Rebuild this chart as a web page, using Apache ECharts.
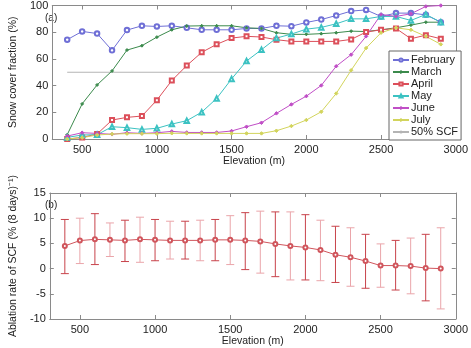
<!DOCTYPE html>
<html lang="en">
<head>
<meta charset="UTF-8">
<title>Snow cover and ablation rate</title>
<script src="https://cdn.jsdelivr.net/npm/echarts@6/dist/echarts.min.js"></script>
<style>
  html, body { margin: 0; padding: 0; background: #fff; }
  #main { width: 471px; height: 348px; }
</style>
</head>
<body>
<div id="main"></div>
<script>
// elevations (m)
var elev = [400,500,600,700,800,900,1000,1100,1200,1300,1400,1500,1600,1700,1800,1900,2000,2100,2200,2300,2400,2500,2600,2700,2800,2900];

// (a) snow cover fraction (%)
var feb = [74.4,80.6,79,66.4,81.6,84.8,84.3,84.8,83.3,81.8,81.8,81.8,82.8,82.8,84.8,84.5,87.3,89.5,92.5,95.8,96.7,91.8,94.3,94.3,93,87.5];
var mar = [3.2,26.3,40.5,51,66.6,69.9,76.3,81.8,84.6,84.8,84.8,84.8,83.3,82.8,79.6,78.4,78.4,78.9,79.6,80.8,80.5,81.8,83.3,85.3,87.5,87.5];
var apr = [0,1.2,3.7,14.2,16.2,17.2,29.1,43.8,55,64.9,70.9,75.6,76.9,76.4,74.4,73.1,73.1,73.1,73.1,74.6,80.1,81.8,82.8,75.1,77.8,75.1];
var may = [1.2,3,3.2,9.2,8.5,7.2,8,11.2,13.7,20.1,30.4,45,58.4,66.9,75.6,78.6,82.3,83.6,86.3,90,90,91.8,91.8,88.8,93.3,87.5];
var jun = [2.2,4.7,4.2,3.5,4.7,4.2,4.7,5.7,4.9,4.9,4.9,6,9.2,12.2,19.2,25.9,32.1,40.1,54.5,63.2,76.9,93.3,91.8,93.8,99.3,100];
var jul = [0,1,3,3.7,4,4,4,4.3,4.2,4.2,4.2,4.2,4.2,4.2,6.2,9.7,14.2,20.4,34.1,51.5,68.1,79.6,83.3,81.8,76.9,70.9];
var scfLine = [[400,50],[2900,50]];

// (b) ablation rate of SCF, mean and error bar ends
var rate = [4.5,5.56,5.8,5.7,5.6,5.8,5.7,5.6,5.6,5.6,5.7,5.7,5.6,5.4,4.9,4.5,4.2,3.7,2.75,2.25,1.5,0.6,0.6,0.5,0.1,0];
var rateHi = [9.75,10,10.9,9.06,9.6,10.2,9.75,9.4,9.4,9.6,9.75,10.5,11.1,11.4,11.25,11.25,10.7,9.6,8.4,8.1,6.8,4.9,5.6,6.06,6.8,8.1];
var rateLo = [-1,1,0.8,2.4,1.4,1.25,1.56,1.9,1.9,1.56,1.56,0.8,-0.2,-0.9,-1.6,-2.25,-2.25,-2.4,-2.75,-3.5,-3.9,-3.7,-4.25,-5,-6.4,-8];

var xTicks = [500,1000,1500,2000,2500,3000];

function pairs(ys) {
    var out = [];
    for (var i = 0; i < elev.length; i++) out.push([elev[i], ys[i]]);
    return out;
}

var errData = [];
for (var i = 0; i < elev.length; i++) errData.push([elev[i], rateLo[i], rateHi[i]]);

var chart = echarts.init(document.getElementById('main'));

var FONT = 'Liberation Sans, Arial, sans-serif';
var axLine = { show: true, onZero: false, lineStyle: { color: '#8a8a8a', width: 1 } };

function xAxis(grid, top) {
    return {
        type: 'value', gridIndex: grid, min: 300, max: 3000,
        position: top ? 'top' : 'bottom',
        axisLine: axLine,
        axisTick: { show: true, inside: true, length: 4, customValues: xTicks, lineStyle: { color: '#8a8a8a' } },
        axisLabel: { show: !top, customValues: xTicks, margin: 5, color: '#222', fontSize: 11, fontFamily: FONT,
                     formatter: function (v) { return String(v); } },
        splitLine: { show: false },
        name: top ? '' : 'Elevation (m)', nameLocation: 'middle', nameGap: 17,
        nameTextStyle: { color: '#222', fontSize: 10.5, fontFamily: FONT }
    };
}
function yAxis(grid, right, min, max, step, name) {
    return {
        type: 'value', gridIndex: grid, min: min, max: max, interval: step,
        position: right ? 'right' : 'left',
        axisLine: axLine,
        axisTick: { show: true, inside: true, length: 4, lineStyle: { color: '#8a8a8a' } },
        axisLabel: { show: !right, margin: 4, color: '#222', fontSize: 11, fontFamily: FONT },
        splitLine: { show: false },
        name: right ? '' : name, nameLocation: 'middle', nameGap: 20,
        nameTextStyle: { color: '#222', fontSize: 10.5, fontFamily: FONT }
    };
}

function month(name, data, color, symbol, size) {
    return {
        name: name, type: 'line', xAxisIndex: 0, yAxisIndex: 0,
        data: pairs(data), symbol: symbol, symbolSize: size,
        lineStyle: { color: color, width: 1 },
        itemStyle: { color: color, borderColor: color, borderWidth: 1 },
        emphasis: { disabled: true }
    };
}

chart.setOption({
    animation: false,
    grid: [
        { left: 31, top: 5, width: 427, height: 134 },
        { left: 31, top: 193, width: 427, height: 133 }
    ],
    xAxis: [xAxis(0, false), xAxis(0, true), xAxis(1, false), xAxis(1, true)],
    yAxis: [
        yAxis(0, false, 0, 100, 20, 'Snow cover fraction (%)'),
        yAxis(0, true, 0, 100, 20),
        yAxis(1, false, -10, 15, 5, 'Ablation rate of SCF (% (8 days)\u207b\u00b9)'),
        yAxis(1, true, -10, 15, 5)
    ],
    legend: {
        data: ['February','March','April','May','June','July','50% SCF'],
        orient: 'vertical', left: 389, top: 51,
        itemWidth: 16, itemHeight: 4, itemGap: 0,
        itemStyle: { borderWidth: 1 },
        padding: [3, 3, 2, 3],
        selectedMode: false,
        backgroundColor: '#fff', borderColor: '#666', borderWidth: 1,
        textStyle: { color: '#222', fontSize: 11, lineHeight: 12, fontFamily: FONT, padding: [0, 0, 0, -3] }
    },
    graphic: [
        { type: 'text', left: 45, top: 13, style: { text: '(a)', fill: '#222', font: '10px Liberation Sans, Arial, sans-serif' } },
        { type: 'text', left: 45, top: 200, style: { text: '(b)', fill: '#222', font: '10px Liberation Sans, Arial, sans-serif' } }
    ],
    series: [
        {
            name: '50% SCF', type: 'line', xAxisIndex: 0, yAxisIndex: 0,
            data: scfLine, symbol: 'none',
            lineStyle: { color: '#b4b4b4', width: 1.2 },
            itemStyle: { color: '#b4b4b4' }, z: 1
        },
        month('February', feb, '#6f6fd6', 'emptyCircle', 4.5),
        month('March', mar, '#3b8a4c', 'diamond', 3),
        month('April', apr, '#dc4f5a', 'emptyRect', 4),
        month('May', may, '#3cc2c2', 'emptyTriangle', 4.5),
        month('June', jun, '#c04ec6', 'diamond', 3.5),
        month('July', jul, '#d2d45c', 'diamond', 3.5),
        {
            type: 'custom', xAxisIndex: 2, yAxisIndex: 2,
            data: errData,
            renderItem: function (params, api) {
                var x = api.value(0);
                var lo = api.coord([x, api.value(1)]);
                var hi = api.coord([x, api.value(2)]);
                var w = 4;
                var col = params.dataIndex % 2 ? '#eaa5aa' : '#c8434b';
                var st = { stroke: col, lineWidth: 1 };
                return {
                    type: 'group',
                    children: [
                        { type: 'line', shape: { x1: hi[0], y1: hi[1], x2: lo[0], y2: lo[1] }, style: st },
                        { type: 'line', shape: { x1: hi[0] - w, y1: hi[1], x2: hi[0] + w, y2: hi[1] }, style: st },
                        { type: 'line', shape: { x1: lo[0] - w, y1: lo[1], x2: lo[0] + w, y2: lo[1] }, style: st }
                    ]
                };
            },
            z: 2
        },
        {
            type: 'line', xAxisIndex: 2, yAxisIndex: 2,
            data: pairs(rate), symbol: 'emptyCircle', symbolSize: 4,
            lineStyle: { color: '#d0555c', width: 1 },
            itemStyle: { color: '#d0555c', borderColor: '#d0555c' }, z: 3
        }
    ]
});
</script>
</body>
</html>
